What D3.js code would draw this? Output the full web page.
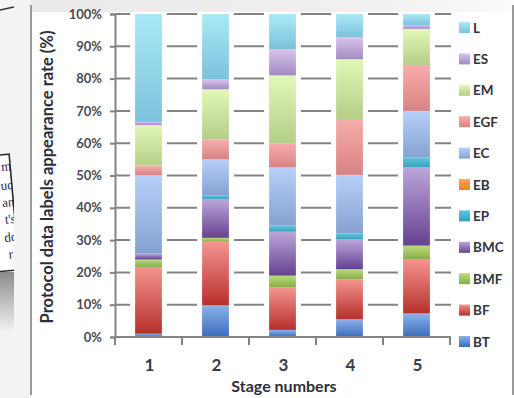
<!DOCTYPE html>
<html>
<head>
<meta charset="utf-8">
<script src="https://cdn.jsdelivr.net/npm/d3@7/dist/d3.min.js"></script>
<style>
  html, body { margin: 0; padding: 0; background: #ffffff; }
  svg { display: block; }
  text { font-family: Lato, "Open Sans", "DejaVu Sans", sans-serif; }
</style>
</head>
<body>
<svg id="chart" width="514" height="398"></svg>
<script>
// Stage categories and series (bottom to top of each stacked bar)
const stages = ["1", "2", "3", "4", "5"];
const seriesNames = ["BT", "BF", "BMF", "BMC", "EP", "EB", "EC", "EGF", "EM", "ES", "L"];

// Share of protocol data labels (%) per stage
const BT  = [1.0,  9.8,  2.2,  5.5,  7.3];
const BF  = [20.7, 19.7, 13.2, 12.4, 16.8];
const BMF = [2.3,  1.2,  3.6,  3.1,  4.2];
const BMC = [1.8,  11.9, 13.6, 9.2,  24.2];
const EP  = [0.0,  1.3,  1.9,  1.9,  3.1];
const EB  = [0.0,  0.0,  0.0,  0.0,  0.0];
const EC  = [24.3, 11.1, 18.0, 18.1, 14.4];
const EGF = [3.0,  6.2,  7.5,  17.3, 14.2];
const EM  = [12.5, 15.5, 21.0, 18.5, 11.2];
const ES  = [1.0,  3.1,  8.1,  6.8,  1.2];
const L   = [33.4, 20.2, 10.9, 7.2,  3.4];

const yTicks = [0, 0.1, 0.2, 0.3, 0.4, 0.5, 0.6, 0.7, 0.8, 0.9, 1.0];

const seriesValues = { BT, BF, BMF, BMC, EP, EB, EC, EGF, EM, ES, L };

// top / bottom shades of each series' gradient
const palette = {
  BT:  ["#8db1ea", "#3a6dbd"],
  BF:  ["#f5958f", "#b62f2c"],
  BMF: ["#b9db7e", "#88ae47"],
  BMC: ["#bba6da", "#664191"],
  EP:  ["#60c6df", "#36a0be"],
  EB:  ["#fda55c", "#ef7f2e"],
  EC:  ["#b7d0f8", "#86a2d2"],
  EGF: ["#f7adab", "#d88383"],
  EM:  ["#e2f8b6", "#b4cf88"],
  ES:  ["#d8c4ee", "#a28bc1"],
  L:   ["#abe9f7", "#7ac2db"]
};

const table = stages.map((s, i) => {
  const row = { stage: s };
  seriesNames.forEach(k => { row[k] = seriesValues[k][i]; });
  return row;
});

const svg = d3.select("#chart");
const defs = svg.append("defs");

seriesNames.forEach(k => {
  const g = defs.append("linearGradient")
    .attr("id", "grad-" + k)
    .attr("x1", 0).attr("y1", 0).attr("x2", 0).attr("y2", 1);
  g.append("stop").attr("offset", "0%").attr("stop-color", palette[k][0]);
  g.append("stop").attr("offset", "100%").attr("stop-color", palette[k][1]);
});

const topBand = defs.append("linearGradient").attr("id", "top-band")
  .attr("x1", 0).attr("y1", 0).attr("x2", 1).attr("y2", 0);
topBand.append("stop").attr("offset", "0%").attr("stop-color", "#e9e9e9");
topBand.append("stop").attr("offset", "75%").attr("stop-color", "#f1f1f1");
topBand.append("stop").attr("offset", "100%").attr("stop-color", "#fbfbfb");

const shade = defs.append("linearGradient").attr("id", "page-shade")
  .attr("x1", 0).attr("y1", 0).attr("x2", 0).attr("y2", 1);
shade.append("stop").attr("offset", "0%").attr("stop-color", "#8c8c8c");
shade.append("stop").attr("offset", "100%").attr("stop-color", "#f2f2f2");

defs.append("clipPath").attr("id", "strip-clip")
  .append("rect").attr("x", 0).attr("y", 0).attr("width", 14).attr("height", 398);

// ---- page surround ----
svg.append("rect").attr("x", 0).attr("y", 0).attr("width", 514).attr("height", 398).attr("fill", "#ffffff");
svg.append("rect").attr("x", 0).attr("y", 0).attr("width", 514).attr("height", 12).attr("fill", "url(#top-band)");
svg.append("rect").attr("x", 0).attr("y", 0).attr("width", 31).attr("height", 398).attr("fill", "#f3f3f3");

// neighbouring sheet on the left edge
const strip = svg.append("g").attr("clip-path", "url(#strip-clip)");
strip.append("rect").attr("x", 0).attr("y", 272).attr("width", 14).attr("height", 60).attr("fill", "url(#page-shade)");
strip.append("line").attr("x1", 0).attr("y1", 10).attr("x2", 14).attr("y2", 7)
  .attr("stroke", "#333").attr("stroke-width", 1.5);
const sheet = strip.append("g").attr("transform", "rotate(-5, 14, 210)");
sheet.append("rect").attr("x", -40).attr("y", 154).attr("width", 54).attr("height", 116)
  .attr("fill", "#ffffff").attr("stroke", "#2b2b2b").attr("stroke-width", 1.6);
const frags = ["m", "uc", "an", "t's", "do", "ra"];
const fragY = [170, 189, 206, 223, 241, 258];
frags.forEach((f, i) => {
  sheet.append("text").attr("x", 15).attr("y", fragY[i]).attr("text-anchor", "end")
    .style("font-family", "'Liberation Serif', serif").style("font-size", "13px")
    .attr("fill", "#1d2240").text(f);
});

// chart frame
svg.append("line").attr("x1", 31).attr("y1", 5).attr("x2", 31).attr("y2", 395)
  .attr("stroke", "#9a9a9a").attr("stroke-width", 2);
svg.append("line").attr("x1", 513).attr("y1", 5).attr("x2", 513).attr("y2", 395)
  .attr("stroke", "#9a9a9a").attr("stroke-width", 2);

// ---- scales ----
const x = d3.scaleBand().domain(stages).range([115, 450]).paddingInner(0.6).paddingOuter(0.3);
const y = d3.scaleLinear().domain([0, 1]).range([337, 14]);

// gridlines
svg.append("g").selectAll("line").data(yTicks.filter(t => t > 0)).join("line")
  .attr("x1", 115).attr("x2", 451)
  .attr("y1", d => y(d)).attr("y2", d => y(d))
  .attr("stroke", "#838383").attr("stroke-width", 2);

// stacked data (100% stacked)
const stack = d3.stack().keys(seriesNames).offset(d3.stackOffsetExpand);
const layers = stack(table);

// white halo behind each bar
svg.append("g").selectAll("rect").data(stages).join("rect")
  .attr("x", d => x(d) - 5).attr("width", x.bandwidth() + 10)
  .attr("y", y(1) - 1).attr("height", y(0) - y(1) + 1)
  .attr("fill", "#ffffff");

const barG = svg.append("g");
layers.forEach(layer => {
  barG.append("g").selectAll("rect").data(layer).join("rect")
    .attr("x", d => x(d.data.stage))
    .attr("width", x.bandwidth())
    .attr("y", d => y(d[1]))
    .attr("height", d => Math.max(0, y(d[0]) - y(d[1])))
    .attr("fill", "url(#grad-" + layer.key + ")");
});

// ---- axes ----
const yAxis = svg.append("g").attr("transform", "translate(115,0)")
  .call(d3.axisLeft(y).tickValues(yTicks).tickFormat(d3.format(".0%")).tickSize(5).tickPadding(8));
yAxis.select(".domain").attr("stroke", "#838383").attr("stroke-width", 2);
yAxis.selectAll(".tick line").attr("stroke", "#838383").attr("stroke-width", 2);
yAxis.selectAll(".tick text")
  .style("font-size", "13px").style("font-weight", "700").attr("fill", "#4a4a55");

const xAxis = svg.append("g").attr("transform", "translate(0,337)");
xAxis.append("line").attr("x1", 115).attr("x2", 451).attr("y1", 0).attr("y2", 0)
  .attr("stroke", "#838383").attr("stroke-width", 2);
const edges = [115].concat(stages.slice(1).map(s => x(s) - (x.step() - x.bandwidth()) / 2), [450]);
xAxis.selectAll("line.tk").data(edges).join("line").attr("class", "tk")
  .attr("x1", d => d).attr("x2", d => d).attr("y1", 0).attr("y2", 8)
  .attr("stroke", "#838383").attr("stroke-width", 2);
xAxis.selectAll("text.lbl").data(stages).join("text").attr("class", "lbl")
  .attr("x", d => x(d) + x.bandwidth() / 2 + 1).attr("y", 34)
  .attr("text-anchor", "middle")
  .style("font-size", "17px").style("font-weight", "700").attr("fill", "#3a3a48")
  .text(d => d);

// axis titles
svg.append("text").attr("x", 284).attr("y", 392).attr("text-anchor", "middle")
  .style("font-size", "16px").style("font-weight", "700").attr("fill", "#2e2e38")
  .text("Stage numbers");
svg.append("text").attr("transform", "translate(53,177) rotate(-90)").attr("text-anchor", "middle")
  .style("font-size", "16.5px").style("font-weight", "700").attr("fill", "#2e2e38")
  .text("Protocol data labels appearance rate (%)");

// ---- legend (top entry is the top of the stack) ----
const legendKeys = seriesNames.slice().reverse();
const legend = svg.append("g").selectAll("g").data(legendKeys).join("g")
  .attr("transform", (d, i) => `translate(459,${22 + i * 31.4})`);
legend.append("rect").attr("width", 11).attr("height", 11)
  .attr("fill", d => "url(#grad-" + d + ")");
legend.append("text").attr("x", 14).attr("y", 10.5)
  .style("font-size", "13.5px").style("font-weight", "700").attr("fill", "#33333d")
  .text(d => d);
</script>
</body>
</html>
